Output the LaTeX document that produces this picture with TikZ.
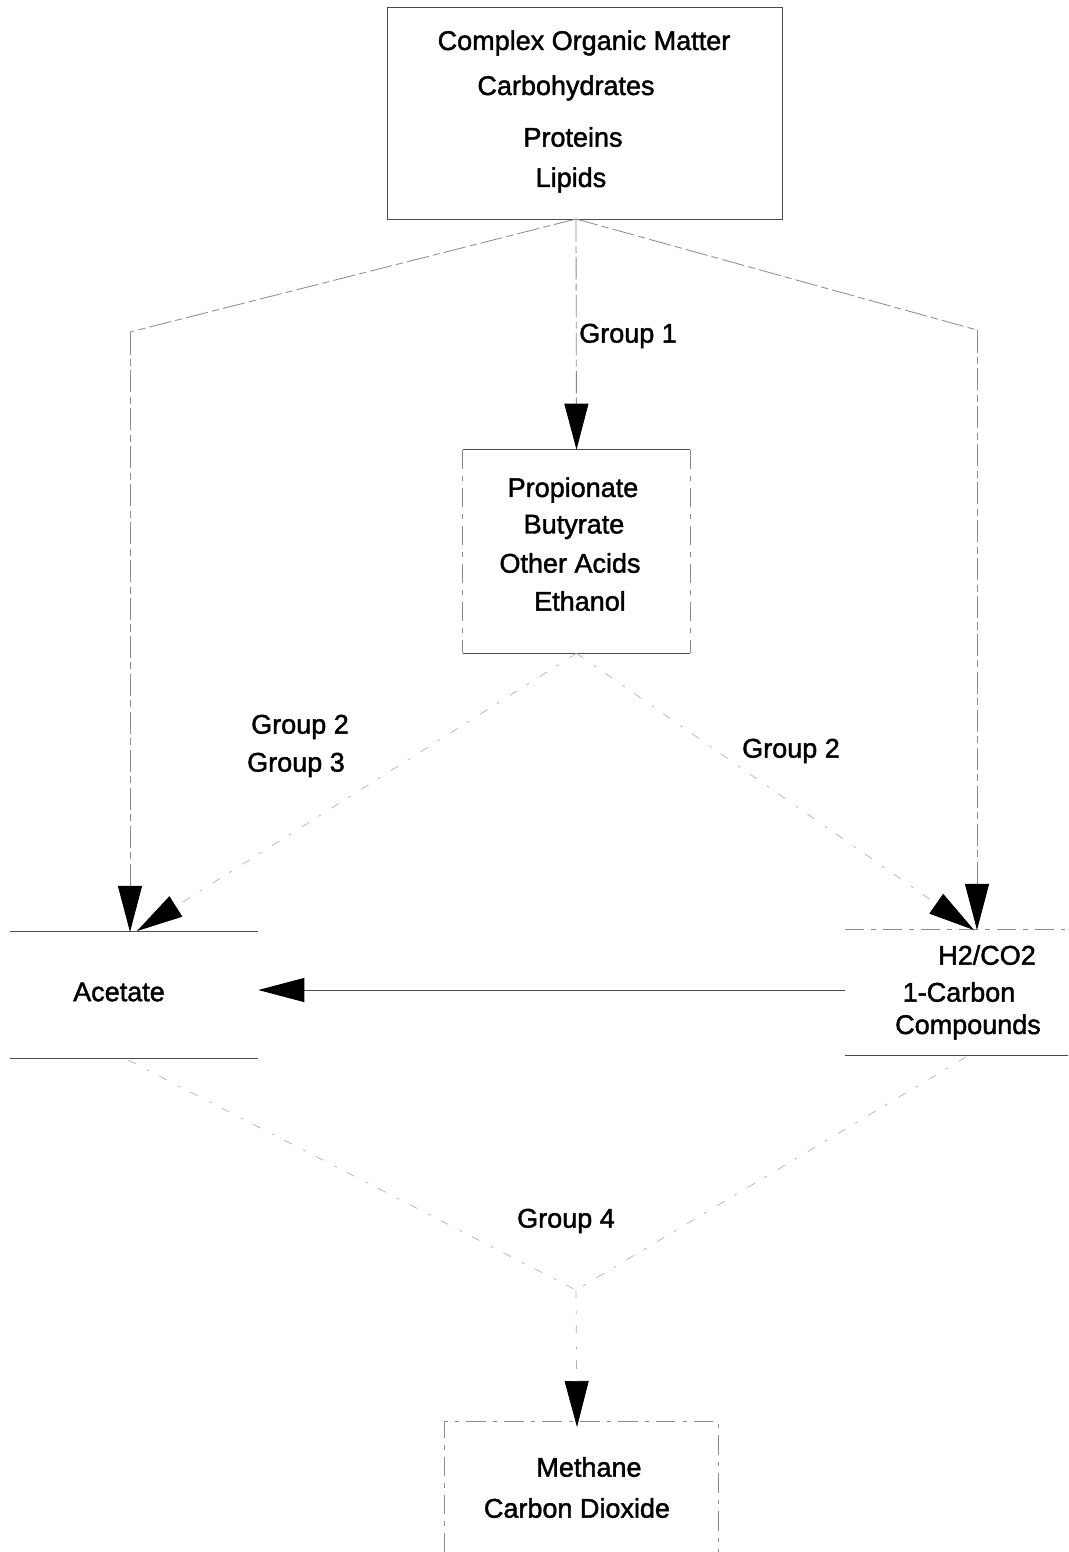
\documentclass[tikz,border=0pt]{standalone}
\usepackage{fontspec}
\setmainfont{Liberation Sans}
\newfontfamily\lblfont{Liberation Sans}[FakeBold=1.6]
\usetikzlibrary{arrows.meta,calc}

\tikzset{
  box/.style={draw=black!70, line width=0.7pt},
  sidebox/.style={draw=black!45, line width=0.6pt, dash pattern=on 14pt off 5pt on 3pt off 5pt},
  lbl/.style={font=\lblfont\fontsize{19.2}{23}\selectfont, inner sep=0pt, anchor=center},
  conn/.style={draw=black!45, line width=0.6pt, dash pattern=on 16pt off 3pt on 5pt off 3pt},
  faint/.style={draw=black!30, line width=0.5pt, dash pattern=on 6pt off 9pt on 2pt off 8pt},
  tip/.style={-{Triangle[length=1.15cm,width=0.6cm,color=black]}},
}

\begin{document}
\begin{tikzpicture}[x=0.025cm,y=-0.025cm]
  \useasboundingbox (0,0) rectangle (1068,1552);

  % boxes
  \node[box, minimum width=9.85cm, minimum height=5.275cm] (top) at (585,113.5) {};
  \node[minimum width=5.675cm, minimum height=5.075cm, inner sep=0pt] (mid) at (576.5,551.5) {};
  \node[minimum width=6.2cm, minimum height=3.15cm, inner sep=0pt] (ac) at (134,995) {};
  \node[minimum width=5.575cm, minimum height=3.125cm, inner sep=0pt] (h2) at (956.5,992.5) {};
  \node[minimum width=6.825cm, minimum height=3.25cm, inner sep=0pt] (me) at (581.5,1487) {};

  % middle box: solid top and bottom, broken sides
  \draw[box] (mid.north west) -- (mid.north east);
  \draw[box] (mid.south west) -- (mid.south east);
  \draw[sidebox] (mid.north west) -- (mid.south west);
  \draw[sidebox] (mid.north east) -- (mid.south east);
  % acetate and H2/CO2 boxes: top and bottom rules only
  \draw[box] (ac.north west) -- (ac.north east);
  \draw[box] (ac.south west) -- (ac.south east);
  \draw[sidebox] (h2.north west) -- (h2.north east);
  \draw[box] (h2.south west) -- (h2.south east);
  % product box
  \draw[sidebox] (me.south west) -- (me.north west) -- (me.north east) -- (me.south east);
  \draw[sidebox] (me.south west) -- (me.south east);

  % texts
  \node[lbl] (t1) at (584,43) {Complex Organic Matter};
  \node[lbl] (t2) at (566,88) {Carbohydrates};
  \node[lbl] (t3) at (573,137) {Proteins};
  \node[lbl] (t4) at (571,180) {Lipids};
  \node[lbl] (m1) at (573,490) {Propionate};
  \node[lbl] (m2) at (574,527) {Butyrate};
  \node[lbl] (m3) at (570,563) {Other Acids};
  \node[lbl] (m4) at (580,601) {Ethanol};
  \node[lbl] (a1) at (119,992) {Acetate};
  \node[lbl] (h1) at (987,955) {H2/CO2};
  \node[lbl] (h2t) at (959,992) {1-Carbon};
  \node[lbl] (h3) at (968,1027) {Compounds};
  \node[lbl] (p1) at (589,1467) {Methane};
  \node[lbl] (p2) at (577,1508) {Carbon Dioxide};
  \node[lbl, anchor=west] (g1) at (579,336) {Group 1};
  \node[lbl] (g23a) at (300,727) {Group 2};
  \node[lbl] (g23b) at (296,765) {Group 3};
  \node[lbl] (g2) at (791,751) {Group 2};
  \node[lbl] (g4) at (566,1221) {Group 4};

  % junction points
  \coordinate (tout) at (576,219);
  \coordinate (lk) at (130,332);
  \coordinate (rk) at (977,330);
  \coordinate (acin) at (130,932);
  \coordinate (acin2) at (137,931);
  \coordinate (h2in) at (977,930);
  \coordinate (h2in2) at (974,930);
  \coordinate (acout) at (128,1060);
  \coordinate (h2out) at (966,1057);
  \coordinate (join) at (576,1290);
  \coordinate (mein) at (577,1427);

  % connectors from the top box
  \draw[conn] (tout) -- (lk);
  \draw[conn] (tout) -- (rk);
  \draw[conn, tip] (lk) -- (acin);
  \draw[conn, tip] (rk) -- (h2in);
  \draw[conn, tip] (tout) -- (mid.north);

  % connectors from the middle box
  \draw[faint, tip] (mid.south) -- (acin2);
  \draw[faint, tip] (mid.south) -- (h2in2);

  % H2/CO2 to acetate
  \draw[box, tip] (h2.west |- 0,990) -- (ac.east |- 0,990);

  % to the products
  \draw[faint] (acout) -- (join);
  \draw[faint] (h2out) -- (join);
  \draw[faint, tip] (join) -- (mein);
\end{tikzpicture}
\end{document}
